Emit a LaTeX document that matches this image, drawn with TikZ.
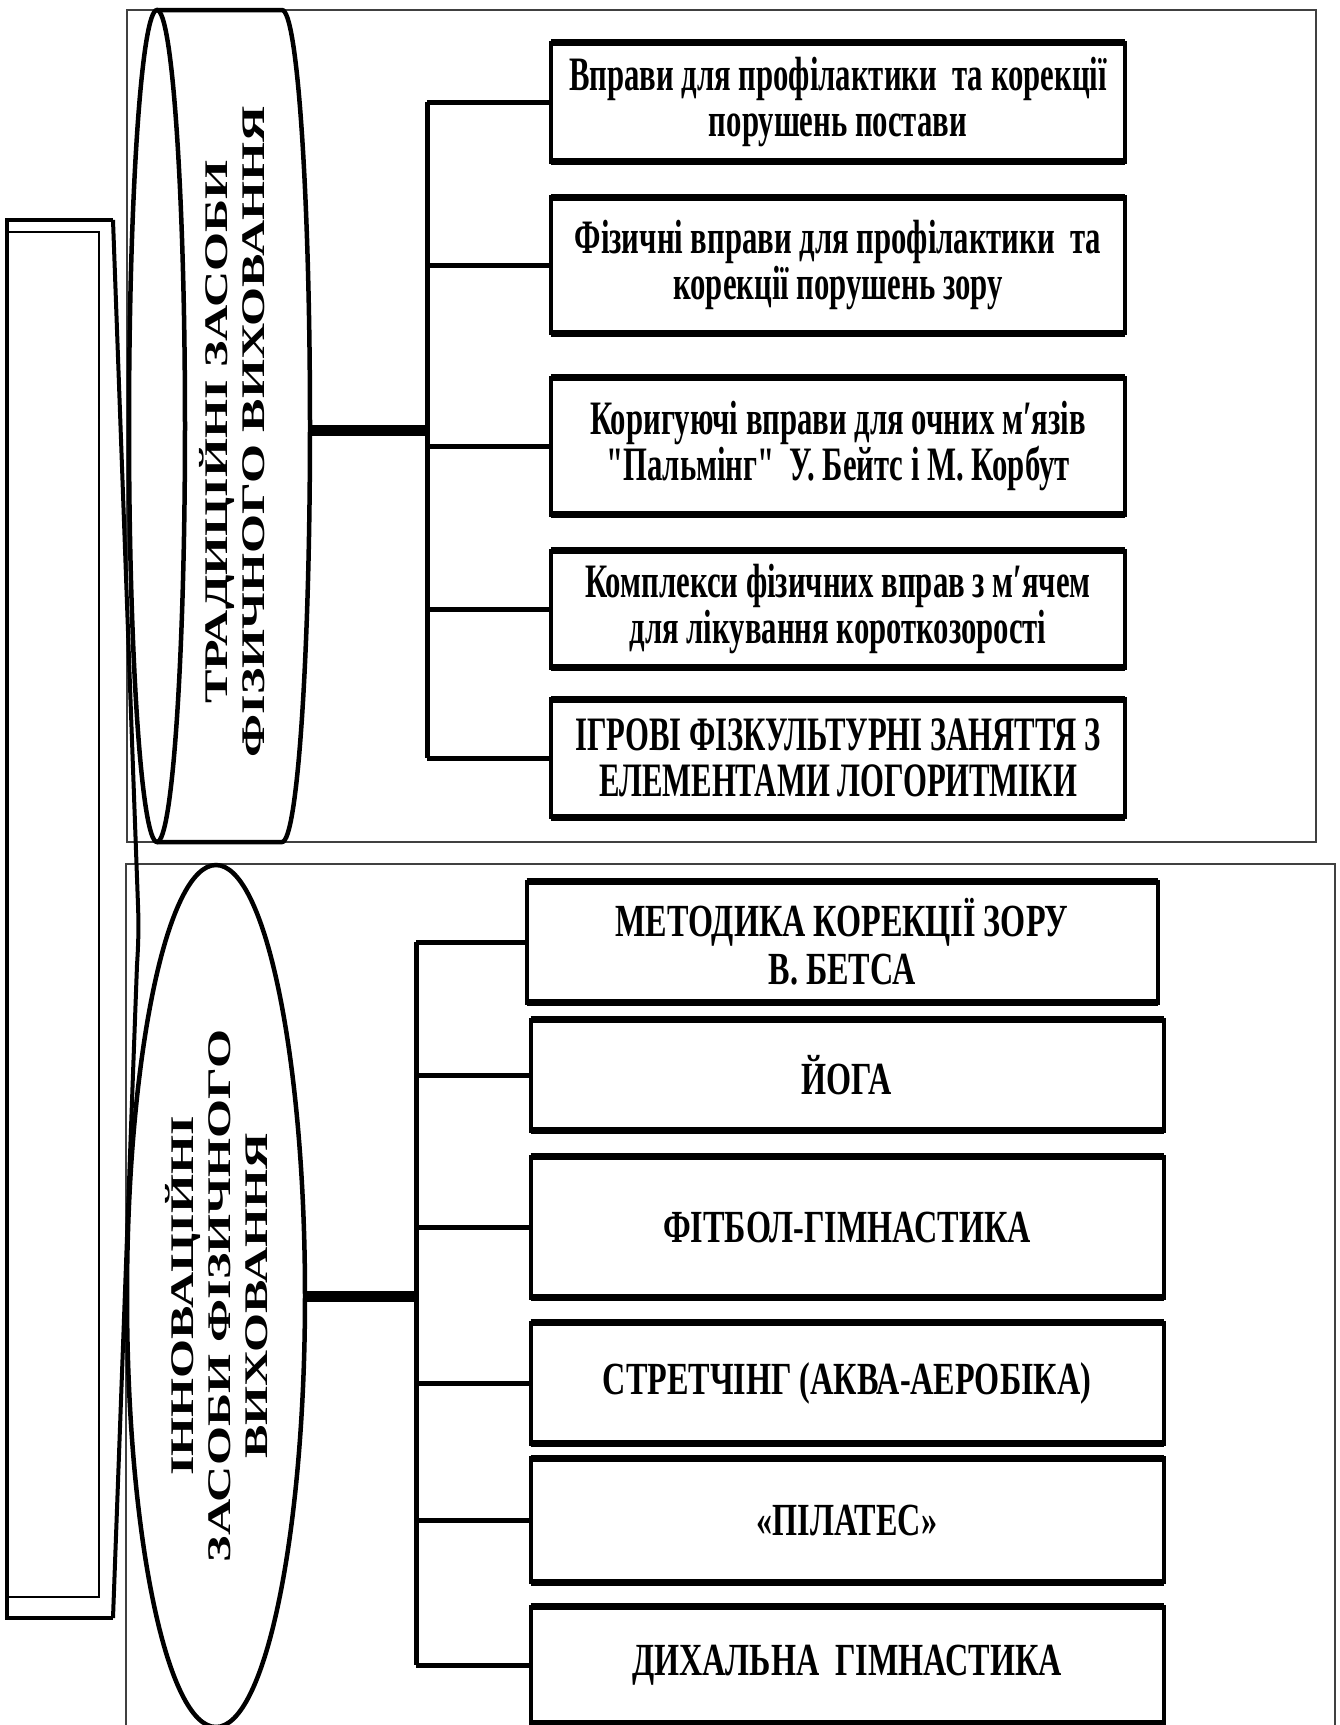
\documentclass[tikz,border=0pt]{standalone}
\usepackage{fontspec}
\setmainfont{Liberation Serif}
\newfontfamily\hfont{Liberation Serif}[FakeStretch=0.64]
\newfontfamily\bfont{Liberation Serif}[FakeStretch=0.7]
\newfontfamily\vfont{Liberation Serif}[FakeStretch=1.52]
\usetikzlibrary{shapes.geometric}
\begin{document}
\begin{tikzpicture}[x=1pt,y=-1pt,
  frame/.style={draw=black!75, line width=2},
  outl/.style={draw, line width=4.5},
  conn/.style={draw, line width=5},
  mainconn/.style={draw, line width=11},
  tbox/.style={draw, line width=4, inner sep=0, outer sep=0, minimum width=574, align=center,
     font=\hfont\bfseries\fontsize{48}{46}\selectfont},
  bbox/.style={draw, line width=4, inner sep=0, outer sep=0, minimum width=633, align=center,
     font=\bfont\bfseries\fontsize{46}{48}\selectfont},
  vtext/.style={rotate=90, align=center, inner sep=0, font=\vfont\bfseries\fontsize{33}{37}\selectfont}
]
\useasboundingbox (0,0) rectangle (1340,1725);
\clip (0,0) rectangle (1340,1725);

% frames
\draw[frame] (127,10) rectangle (1316,842);
\draw[frame] (126,1740) -- (126,864) -- (1335,864) -- (1335,1740);

% top cylinder
\draw[outl] (157,426) ellipse [x radius=28, y radius=416];
\draw[outl] (157,10) -- (282,10) arc[start angle=-90, end angle=90, x radius=28, y radius=416] -- (157,842);
\node[vtext] (trad) at (232,432) {ТРАДИЦІЙНІ ЗАСОБИ\\ФІЗИЧНОГО ВИХОВАННЯ};
\coordinate (tradR) at (310,430);

% bottom ellipse
\node[draw, ellipse, line width=4.5, minimum width=178, minimum height=862, inner sep=0] (innE) at (216,1296) {};
\node[vtext] (innT) at (217,1296) {ІННОВАЦІЙНІ\\ЗАСОБИ ФІЗИЧНОГО\\ВИХОВАННЯ};

% top boxes
\node[tbox, minimum height=119] (t1) at (838,102) {Вправи для профілактики\ \ та корекції\\порушень постави};
\node[tbox, minimum height=136] (t2) at (838,265) {Фізичні вправи для профілактики\ \ та\\корекції порушень зору};
\node[tbox, minimum height=137] (t3) at (838,446) {Коригуючі вправи для очних м′язів\\"Пальмінг"\ \ У. Бейтс і М. Корбут};
\node[tbox, minimum height=117] (t4) at (838,609) {Комплекси фізичних вправ з м′ячем\\для лікування короткозорості};
\node[tbox, minimum height=118] (t5) at (838,758) {ІГРОВІ ФІЗКУЛЬТУРНІ ЗАНЯТТЯ З\\ЕЛЕМЕНТАМИ ЛОГОРИТМІКИ};

% bottom boxes
\node[bbox, minimum width=631, minimum height=121] (b1) at (842,942) {МЕТОДИКА КОРЕКЦІЇ ЗОРУ\\В. БЕТСА};
\node[bbox, minimum height=111] (b2) at (847,1075) {ЙОГА};
\node[bbox, minimum height=141] (b3) at (847,1227) {ФІТБОЛ-ГІМНАСТИКА};
\node[bbox, minimum height=121] (b4) at (847,1383) {СТРЕТЧІНГ (АКВА-АЕРОБІКА)};
\node[bbox, minimum height=124] (b5) at (847,1520) {«ПІЛАТЕС»};
\node[bbox, minimum height=117] (b6) at (847,1665) {ДИХАЛЬНА\ \ ГІМНАСТИКА};

\foreach \n in {t1,t2,t3,t4,t5,b1,b2,b3,b4,b5,b6}{
  \draw[line width=7] (\n.north west) -- (\n.north east) (\n.south west) -- (\n.south east);
}

% top connectors
\coordinate (tj) at (427,430);
\draw[mainconn] (tradR) -- (tj);
\draw[conn] (t1.west -| tj) -- (t5.west -| tj);
\foreach \n in {t1,t2,t3,t4,t5}{ \draw[conn] (\n.west -| tj) -- (\n.west); }

% bottom connectors
\coordinate (bj) at (416,1296);
\draw[mainconn] (innE.east) -- (bj);
\draw[conn] (b1.west -| bj) -- (b6.west -| bj);
\foreach \n in {b1,b2,b3,b4,b5,b6}{ \draw[conn] (\n.west -| bj) -- (\n.west); }

% left box
\draw[line width=4] (113,220) -- (7,220) -- (7,1618) -- (113,1618);
\draw[line width=4] (113,220) -- (138,905) .. controls (139,930) and (138,950) .. (137,965) -- (113,1618);
\draw[line width=1.5] (7,232) rectangle (99,1597);
\end{tikzpicture}
\end{document}
